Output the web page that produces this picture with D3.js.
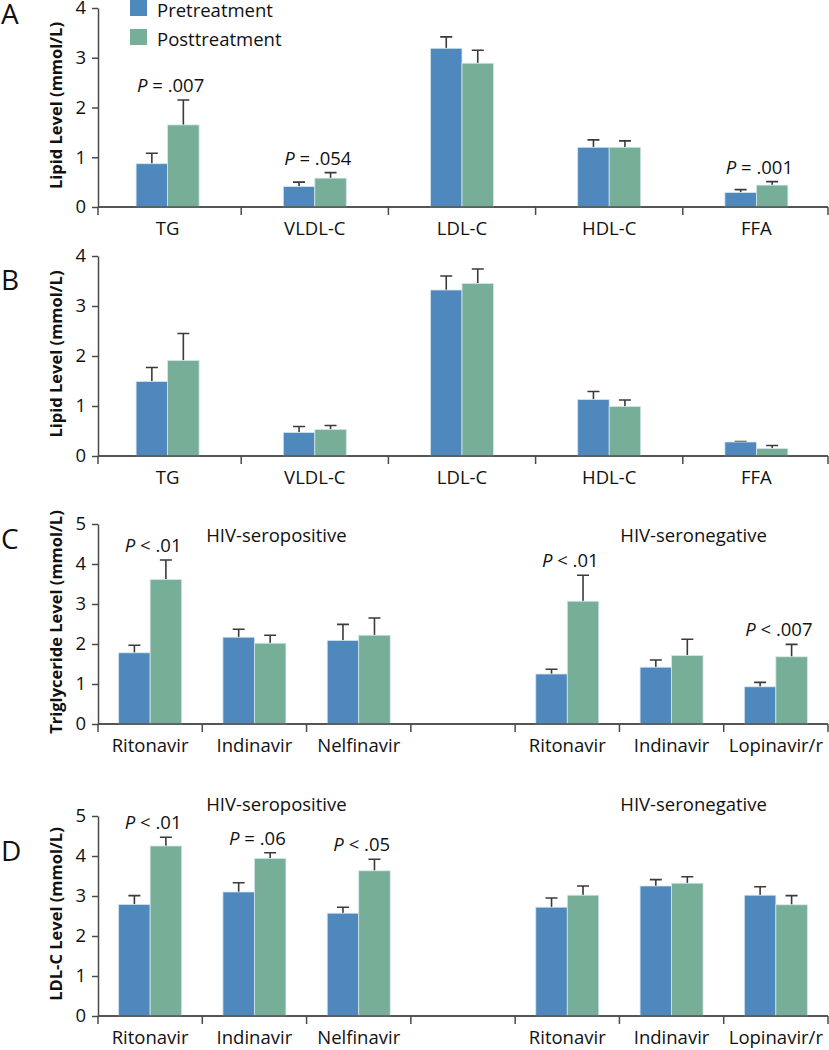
<!DOCTYPE html>
<html>
<head>
<meta charset="utf-8">
<script src="https://cdn.jsdelivr.net/npm/d3@7"></script>
<style>
  body { margin: 0; background: #fff; }
  svg { display: block; font-family: "Open Sans", sans-serif; }
</style>
</head>
<body>
<svg id="chart" width="829" height="1050"></svg>
<script>
// lipid categories (panels A and B)
var lipids = ["TG", "VLDL-C", "LDL-C", "HDL-C", "FFA"];

// panel A, mean and SE (mmol/L)
var aPre     = [0.87, 0.41, 3.19, 1.20, 0.29];
var aPreSE   = [0.21, 0.09, 0.23, 0.15, 0.06];
var aPost    = [1.65, 0.58, 2.89, 1.20, 0.44];
var aPostSE  = [0.50, 0.11, 0.26, 0.13, 0.07];
var aP       = [" = .007", " = .054", null, null, " = .001"];

// panel B
var bPre     = [1.49, 0.47, 3.32, 1.13, 0.28];
var bPreSE   = [0.28, 0.12, 0.28, 0.16, 0.01];
var bPost    = [1.91, 0.53, 3.45, 0.99, 0.15];
var bPostSE  = [0.54, 0.08, 0.29, 0.13, 0.06];
var bP       = [null, null, null, null, null];

// drugs (panels C and D), one empty slot between the two groups
var drugSlots  = ["pos-Ritonavir", "pos-Indinavir", "pos-Nelfinavir", "gap", "neg-Ritonavir", "neg-Indinavir", "neg-Lopinavir/r"];
var drugLabels = ["Ritonavir", "Indinavir", "Nelfinavir", "", "Ritonavir", "Indinavir", "Lopinavir/r"];
var groups     = ["HIV-seropositive", "HIV-seronegative"];

// panel C, triglycerides
var cPre     = [1.78, 2.17, 2.09, null, 1.25, 1.42, 0.93];
var cPreSE   = [0.19, 0.20, 0.40, null, 0.12, 0.18, 0.11];
var cPost    = [3.61, 2.02, 2.22, null, 3.07, 1.71, 1.68];
var cPostSE  = [0.49, 0.20, 0.43, null, 0.65, 0.41, 0.31];
var cP       = [" < .01", null, null, null, " < .01", null, " < .007"];

// panel D, LDL-C
var dPre     = [2.79, 3.10, 2.57, null, 2.72, 3.25, 3.02];
var dPreSE   = [0.22, 0.23, 0.15, null, 0.23, 0.16, 0.21];
var dPost    = [4.25, 3.94, 3.63, null, 3.02, 3.32, 2.78];
var dPostSE  = [0.22, 0.14, 0.29, null, 0.23, 0.16, 0.23];
var dP       = [" < .01", " = .06", " < .05", null, null, null, null];

var series = ["Pretreatment", "Posttreatment"];
var colors = ["#4e88bd", "#77ae97"];

var svg = d3.select("#chart");
var axisColor = "#4a4a4a";
var left = 98, right = 828;
var fs = 18.5;

function drawPanel(p) {
  var g = svg.append("g");
  var y = d3.scaleLinear().domain([0, p.max]).range([p.bottom, p.top]);
  var x = d3.scaleBand().domain(p.cats).range(p.xRange);
  var barW = 31.5;

  // y axis
  var yAxis = d3.axisLeft(y).ticks(p.max).tickSize(6).tickSizeOuter(0).tickPadding(6);
  var ya = g.append("g").attr("transform", "translate(" + left + ",0)").call(yAxis);
  ya.select(".domain").attr("stroke", axisColor).attr("stroke-width", 1.5);
  ya.selectAll(".tick line").attr("stroke", axisColor).attr("stroke-width", 1.5);
  ya.selectAll(".tick text").attr("font-size", fs).attr("fill", "#111")
    .style("font-family", "'Open Sans', sans-serif");

  // x axis line and separators
  g.append("line").attr("x1", left).attr("x2", right)
    .attr("y1", p.bottom).attr("y2", p.bottom)
    .attr("stroke", axisColor).attr("stroke-width", 1.5);
  var seps = p.cats.map(function (c) { return x(c); });
  seps[0] = left;
  seps.push(right);
  g.selectAll(".sep").data(seps).enter().append("line")
    .attr("x1", function (d) { return d; }).attr("x2", function (d) { return d; })
    .attr("y1", p.bottom).attr("y2", p.bottom + 8)
    .attr("stroke", axisColor).attr("stroke-width", 1.5);

  // category labels
  g.selectAll(".cat").data(p.cats).enter().append("text")
    .attr("x", function (d) { return x(d) + x.bandwidth() / 2; })
    .attr("y", p.bottom + 28)
    .attr("text-anchor", "middle").attr("font-size", fs).attr("fill", "#111")
    .text(function (d, i) { return p.labels[i]; });

  // bars
  var rows = [];
  p.cats.forEach(function (c, i) {
    if (p.pre[i] == null) return;
    rows.push({ cat: c, s: 0, v: p.pre[i], se: p.preSE[i] });
    rows.push({ cat: c, s: 1, v: p.post[i], se: p.postSE[i] });
  });
  function bx(d) { return x(d.cat) + x.bandwidth() / 2 - barW + d.s * barW; }

  g.selectAll(".err").data(rows).enter().append("path")
    .attr("d", function (d) {
      var cx = bx(d) + barW / 2, t = y(d.v + d.se);
      return "M" + cx + "," + y(d.v) + "V" + t + "M" + (cx - 6) + "," + t + "H" + (cx + 6);
    })
    .attr("stroke", "#3a3a3a").attr("stroke-width", 1.6).attr("fill", "none");

  g.selectAll(".bar").data(rows).enter().append("rect")
    .attr("x", bx).attr("width", barW)
    .attr("y", function (d) { return y(d.v); })
    .attr("height", function (d) { return p.bottom - y(d.v); })
    .attr("fill", function (d) { return colors[d.s]; })
    .attr("stroke", "#d4e6ee").attr("stroke-width", 0.8);

  // redraw baseline over bar edges
  g.append("line").attr("x1", left).attr("x2", right)
    .attr("y1", p.bottom).attr("y2", p.bottom)
    .attr("stroke", axisColor).attr("stroke-width", 1.5);

  // P values
  p.cats.forEach(function (c, i) {
    if (!p.pv[i]) return;
    var t = g.append("text")
      .attr("x", x(c) + x.bandwidth() / 2 + 3)
      .attr("y", y(p.post[i] + p.postSE[i]) - 8)
      .attr("text-anchor", "middle").attr("font-size", fs).attr("fill", "#111");
    t.append("tspan").attr("font-style", "italic").text("P");
    t.append("tspan").text(p.pv[i]);
  });

  // group titles
  if (p.groups) {
    [[0, 2], [4, 6]].forEach(function (r, k) {
      var cx = (x(p.cats[r[0]]) + x(p.cats[r[1]]) + x.bandwidth()) / 2 + 22;
      g.append("text").attr("x", cx).attr("y", p.groupY)
        .attr("text-anchor", "middle").attr("font-size", fs).attr("fill", "#111")
        .text(p.groups[k]);
    });
  }

  // y title
  g.append("text")
    .attr("transform", "translate(62," + ((p.top + p.bottom) / 2 - 2) + ") rotate(-90)")
    .attr("text-anchor", "middle").attr("font-size", 16.5).attr("font-weight", "bold")
    .attr("fill", "#111").text(p.title);

  // panel letter
  g.append("text").attr("x", 1).attr("y", p.letterY)
    .attr("font-size", 28).attr("fill", "#111").text(p.letter);
}

drawPanel({ letter: "A", letterY: 24, title: "Lipid Level (mmol/L)", max: 4, top: 8, bottom: 207,
  cats: lipids, labels: lipids, xRange: [94, 830],
  pre: aPre, preSE: aPreSE, post: aPost, postSE: aPostSE, pv: aP });

drawPanel({ letter: "B", letterY: 290, title: "Lipid Level (mmol/L)", max: 4, top: 256, bottom: 456,
  cats: lipids, labels: lipids, xRange: [94, 830],
  pre: bPre, preSE: bPreSE, post: bPost, postSE: bPostSE, pv: bP });

drawPanel({ letter: "C", letterY: 549, title: "Triglyceride Level (mmol/L)", max: 5, top: 524, bottom: 724,
  cats: drugSlots, labels: drugLabels, xRange: [left, right], groups: groups, groupY: 542,
  pre: cPre, preSE: cPreSE, post: cPost, postSE: cPostSE, pv: cP });

drawPanel({ letter: "D", letterY: 861, title: "LDL-C Level (mmol/L)", max: 5, top: 816, bottom: 1016,
  cats: drugSlots, labels: drugLabels, xRange: [left, right], groups: groups, groupY: 811,
  pre: dPre, preSE: dPreSE, post: dPost, postSE: dPostSE, pv: dP });

// legend
var legend = svg.append("g");
series.forEach(function (s, i) {
  legend.append("rect").attr("x", 130).attr("y", i * 29).attr("width", 17).attr("height", 16)
    .attr("fill", colors[i]);
  legend.append("text").attr("x", 157).attr("y", i * 29 + 17)
    .attr("font-size", fs).attr("fill", "#111").text(s);
});
</script>
</body>
</html>
